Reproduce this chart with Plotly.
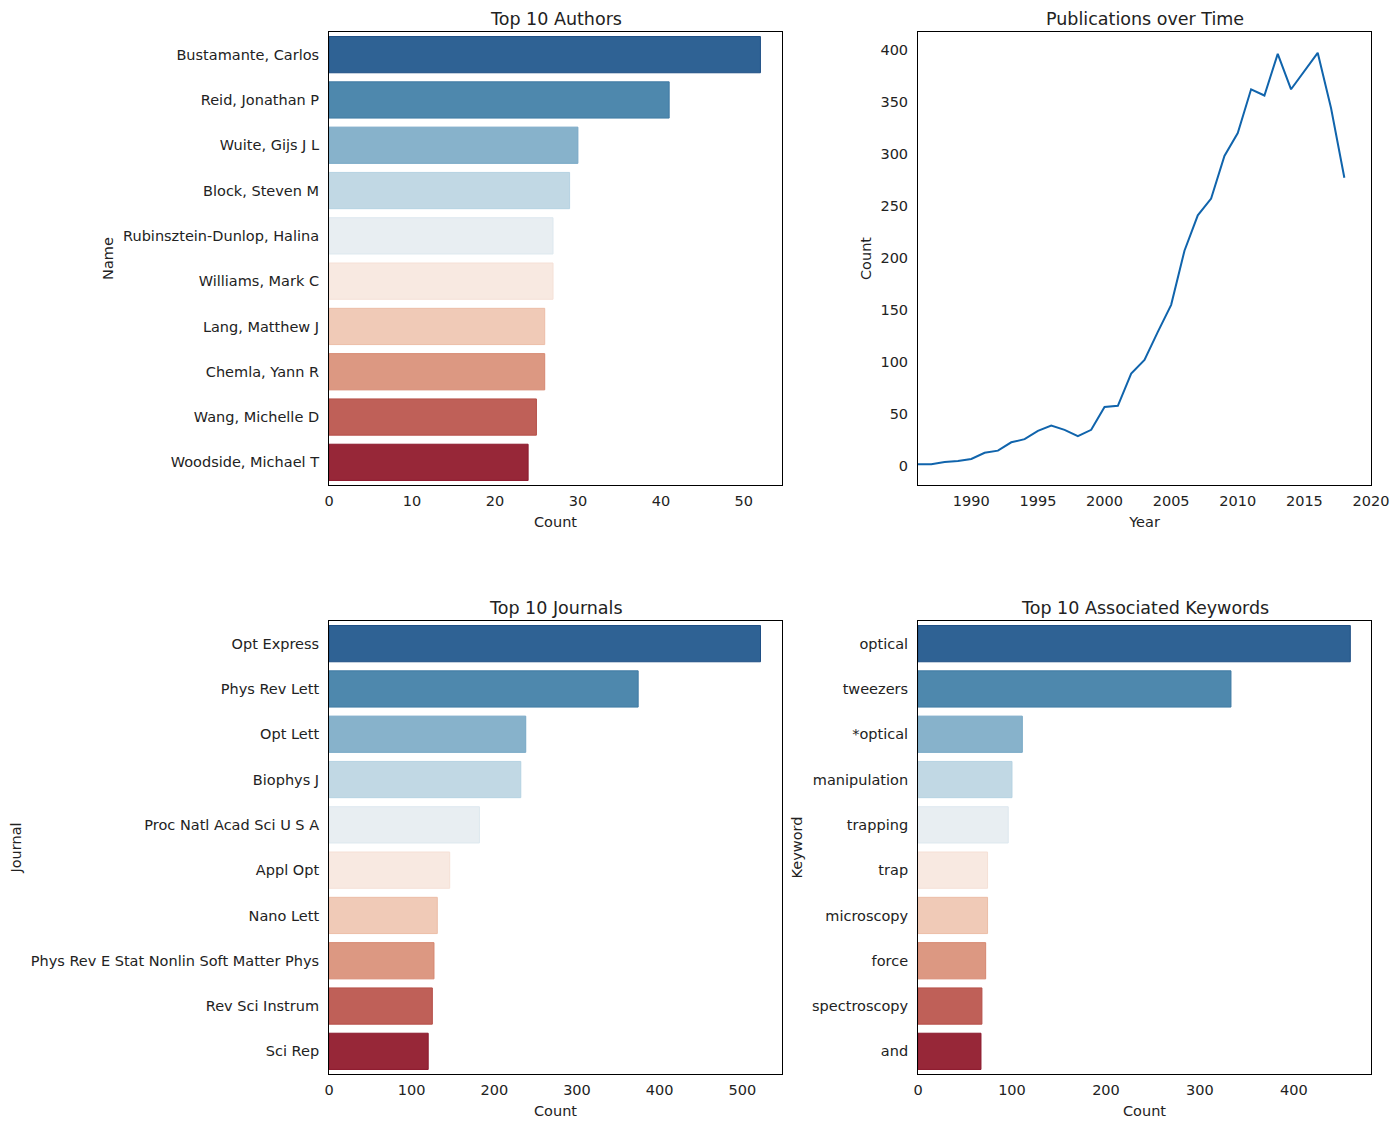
import plotly.graph_objects as go

authors = ["Bustamante, Carlos", "Reid, Jonathan P", "Wuite, Gijs J L", "Block, Steven M",
           "Rubinsztein-Dunlop, Halina", "Williams, Mark C", "Lang, Matthew J", "Chemla, Yann R",
           "Wang, Michelle D", "Woodside, Michael T"]
author_counts = [52, 41, 30, 29, 27, 27, 26, 26, 25, 24]

years = list(range(1986, 2019))
pub_counts = [2, 2, 4, 5, 7, 13, 15, 23, 26, 34, 39, 35, 29, 35, 57, 58, 89, 102, 129, 155,
              207, 241, 257, 298, 320, 362, 356, 396, 362, 379, 397, 344, 277]

journals = ["Opt Express", "Phys Rev Lett", "Opt Lett", "Biophys J", "Proc Natl Acad Sci U S A",
            "Appl Opt", "Nano Lett", "Phys Rev E Stat Nonlin Soft Matter Phys", "Rev Sci Instrum", "Sci Rep"]
journal_counts = [522, 374, 238, 232, 182, 146, 131, 127, 125, 120]

keywords = ["optical", "tweezers", "*optical", "manipulation", "trapping", "trap", "microscopy",
            "force", "spectroscopy", "and"]
keyword_counts = [460, 333, 111, 100, 96, 74, 74, 72, 68, 67]

palette = ["#2F6294", "#4E88AD", "#87B2CB", "#C1D8E4", "#E8EEF2",
           "#F8E9E1", "#F0CAB7", "#DC9882", "#BF6058", "#972738"]
edge = ["#1f4f85", "#3f7aa3", "#78a8c6", "#b5d2e2", "#dde8ef",
        "#f5e0d6", "#ecbda7", "#d68770", "#b54e47", "#8c1a2e"]

FONT = "DejaVu Sans"
W, H = 1400, 1129
OFF = 8  # page body offset

def xd(a, b):
    return [(a - OFF) / W, (b - OFF) / W]

def yd(top, bottom):
    return [1 - (bottom - OFF) / H, 1 - (top - OFF) / H]

XD1 = xd(329, 782)
XD2 = xd(918, 1371)
YD1 = yd(32, 485)
YD2 = yd(621, 1074)

fig = go.Figure()

def bar(names, vals, xa, ya):
    fig.add_trace(go.Bar(y=names, x=vals, orientation="h", xaxis=xa, yaxis=ya,
                         marker=dict(color=palette, line=dict(color=edge, width=1)),
                         showlegend=False))

bar(authors, author_counts, "x", "y")
fig.add_trace(go.Scatter(x=years, y=pub_counts, mode="lines", xaxis="x2", yaxis="y2",
                         line=dict(color="#1064ac", width=2), showlegend=False))
bar(journals, journal_counts, "x3", "y3")
bar(keywords, keyword_counts, "x4", "y4")

ax_common = dict(showline=True, mirror=True, linecolor="black", linewidth=1,
                 showgrid=False, zeroline=False, ticks="", automargin=False,
                 tickfont=dict(family=FONT, size=14.5, color="#222"),
                 title_font=dict(family=FONT, size=14.5, color="#222"))

def xax(**kw):
    d = dict(ax_common, ticklabelstandoff=3, title_standoff=8)
    d.update(kw)
    return d

def yax(**kw):
    d = dict(ax_common, ticklabelstandoff=6, title_standoff=5)
    d.update(kw)
    return d

fig.update_layout(
    width=W, height=H, plot_bgcolor="white", paper_bgcolor="white",
    margin=dict(l=0, r=0, t=0, b=0, autoexpand=False), bargap=0.2,
    xaxis=xax(domain=XD1, anchor="y", range=[0, 54.6], dtick=10, title_text="Count"),
    yaxis=yax(domain=YD1, anchor="x", range=[9.5, -0.5], title_text="Name"),
    xaxis2=xax(domain=XD2, anchor="y2", range=[1986, 2020], tick0=1990, dtick=5, title_text="Year"),
    yaxis2=yax(domain=YD1, anchor="x2", range=[-18, 417], dtick=50, title_text="Count"),
    xaxis3=xax(domain=XD1, anchor="y3", range=[0, 548], dtick=100, title_text="Count"),
    yaxis3=yax(domain=YD2, anchor="x3", range=[9.5, -0.5], title_text="Journal"),
    xaxis4=xax(domain=XD2, anchor="y4", range=[0, 482], dtick=100, title_text="Count"),
    yaxis4=yax(domain=YD2, anchor="x4", range=[9.5, -0.5], title_text="Keyword"),
)

titles = [("Top 10 Authors", XD1, YD1), ("Publications over Time", XD2, YD1),
          ("Top 10 Journals", XD1, YD2), ("Top 10 Associated Keywords", XD2, YD2)]
for t, xdm, ydm in titles:
    fig.add_annotation(text=t, x=(xdm[0] + xdm[1]) / 2, y=ydm[1], xref="paper", yref="paper",
                       xanchor="center", yanchor="bottom", yshift=1, showarrow=False,
                       font=dict(family=FONT, size=17.5, color="#222"))

fig.write_html("out.html")
